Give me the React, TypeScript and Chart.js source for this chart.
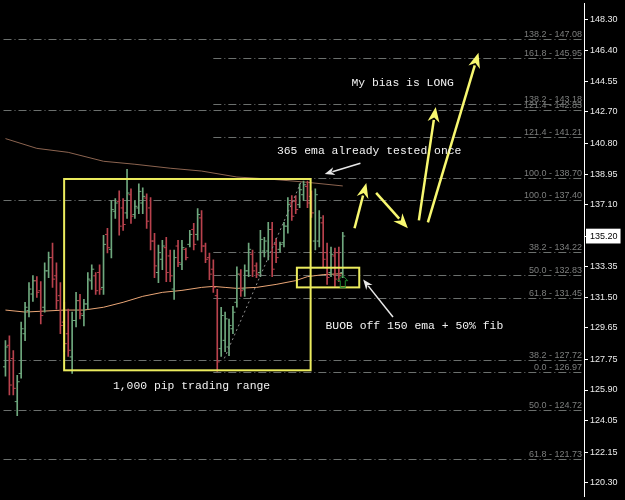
import React, { useEffect, useRef } from 'react';
import { Chart, registerables } from 'chart.js';

Chart.register(...registerables);

// ---- OHLC bars (one per bar slot) ----
const highs = [
  128.88, 129.18, 128.28, 126.79, 130.01, 131.20, 132.39, 132.81, 132.75, 132.45,
  133.59, 134.24, 134.78, 133.59, 132.39, 131.20, 130.79, 130.61, 131.80, 131.68,
  131.38, 132.99, 133.47, 132.99, 133.47, 135.25, 135.67, 137.34, 137.46, 137.93,
  137.46, 139.24, 138.05, 137.34, 138.35, 138.11, 137.75, 137.52, 135.37, 134.66,
  134.95, 135.13, 134.36, 134.36, 134.95, 134.95, 134.48, 135.55, 135.97, 136.86,
  136.74, 134.78, 134.18, 133.76, 131.98, 130.90, 130.61, 130.19, 130.96, 133.35,
  133.17, 133.47, 134.78, 134.36, 133.59, 135.55, 135.13, 136.03, 136.03, 135.07,
  134.84, 136.03, 137.52, 137.64, 137.64, 138.35, 138.53, 138.53, 137.93, 138.05,
  136.74, 136.44, 134.78, 134.54, 134.48, 134.54, 135.43,
];
const lows = [
  126.73, 125.60, 125.60, 124.35, 126.62, 128.88, 130.31, 131.26, 131.50, 129.89,
  130.61, 132.69, 132.10, 130.79, 129.30, 128.22, 127.93, 126.91, 129.71, 130.19,
  129.77, 130.79, 131.98, 131.68, 131.68, 131.68, 134.18, 133.88, 136.27, 135.25,
  135.55, 136.27, 135.97, 136.27, 136.56, 136.56, 135.67, 134.36, 132.69, 132.39,
  133.17, 132.45, 132.45, 131.38, 133.35, 133.17, 133.76, 134.54, 134.36, 134.95,
  134.24, 133.59, 132.57, 131.80, 127.03, 127.93, 128.22, 127.98, 129.30, 130.90,
  131.56, 131.56, 132.75, 132.75, 132.69, 132.75, 133.94, 133.76, 132.75, 133.59,
  134.24, 134.54, 135.37, 136.15, 136.56, 136.92, 137.34, 136.92, 136.33, 134.36,
  134.54, 133.35, 132.28, 132.75, 132.16, 132.45, 132.69,
];
const opens = [
  127.3, 128.6, 127.8, 125.2, 126.9, 129.3, 130.7, 131.7, 132.5, 131.9,
  130.9, 133.1, 133.9, 132.8, 131.6, 130.0, 129.3, 127.9, 130.1, 131.3,
  130.4, 131.1, 132.5, 132.8, 133.0, 132.1, 135.3, 134.4, 136.7, 137.3,
  136.9, 136.6, 137.7, 136.5, 136.9, 137.2, 137.5, 136.9, 134.9, 133.0,
  133.8, 134.5, 134.0, 132.0, 134.6, 133.5, 134.4, 134.7, 135.6, 135.3,
  136.3, 134.6, 133.9, 133.2, 131.6, 128.4, 128.9, 128.5, 129.6, 131.2,
  132.9, 132.0, 133.1, 134.1, 133.4, 133.0, 134.3, 134.3, 135.6, 134.7,
  134.4, 134.8, 135.8, 137.2, 137.3, 137.1, 137.7, 138.2, 137.6, 134.9,
  134.9, 136.0, 134.2, 133.0, 134.0, 134.2, 133.0,
];
const closes = [
  128.5, 126.2, 126.0, 126.4, 129.6, 130.9, 132.0, 132.5, 131.8, 130.4,
  133.1, 133.9, 132.6, 131.3, 129.8, 128.7, 128.3, 130.1, 131.3, 130.5,
  131.1, 132.6, 133.2, 131.9, 132.0, 134.7, 134.5, 136.8, 137.2, 135.8,
  135.9, 137.8, 136.4, 137.0, 137.9, 137.6, 136.1, 134.9, 133.4, 134.2,
  134.6, 133.0, 132.8, 133.9, 133.6, 134.5, 133.9, 135.3, 134.7, 136.5,
  134.6, 133.8, 132.9, 132.1, 127.6, 130.4, 130.2, 129.8, 130.6, 132.9,
  131.9, 133.1, 134.4, 133.1, 132.9, 135.0, 134.9, 135.6, 133.2, 133.9,
  134.7, 135.8, 137.1, 136.4, 136.8, 138.0, 138.3, 137.2, 136.6, 137.7,
  136.3, 133.8, 132.7, 134.1, 132.6, 132.8, 135.20,
];

// ---- moving averages (bar index, value) ----
const ema365Idx = [0, 8, 16, 25, 33, 42, 50, 59, 67, 76, 86];
const ema365Val = [141.09, 140.50, 140.26, 139.72, 139.54, 139.30, 139.13, 138.77, 138.65, 138.47, 138.23];
const ema150Idx = [0, 5, 10, 15, 20, 25, 30, 35, 40, 45, 50, 53, 56, 59, 64, 69, 74, 77, 81, 86];
const ema150Val = [130.73, 130.61, 130.67, 130.73, 130.73, 130.90, 131.20, 131.56, 131.80, 131.92, 132.10, 132.16, 132.10, 132.04, 132.10, 132.28, 132.51, 132.75, 132.87, 132.93];

// ---- price axis ticks ----
const yTicks = [148.30, 146.40, 144.55, 142.70, 140.80, 138.95, 137.10, 135.20, 133.35, 131.50, 129.65, 127.75, 125.90, 124.05, 122.15, 120.30];

// ---- fibonacci levels ----
const fibALevels = [147.08, 142.83, 137.40, 127.72, 124.72, 121.73];
const fibARatios = ['138.2', '121.4', '100.0', '38.2', '50.0', '61.8'];
const fibBLevels = [145.95, 143.18, 141.21, 138.70, 134.22, 132.83, 131.45, 126.97];
const fibBRatios = ['161.8', '138.2', '121.4', '100.0', '38.2', '50.0', '61.8', '0.0'];
const fibAStart = -0.5;
const fibBStart = 53;

// ---- annotations (bar index / price) ----
const rangeBox = [14.96, 138.65, 77.8, 127.09];
const buyBox = [74.3, 133.29, 90.2, 132.10];
const trendLine = [55.8, 127.81, 75.5, 138.53];
const yellowArrows = [
  [89.0, 135.67, 92.0, 138.41],
  [94.5, 137.81, 102.6, 135.67],
  [105.4, 136.15, 109.7, 143.0],
  [107.7, 136.03, 120.6, 146.27],
];
const whiteArrows = [
  [90.5, 139.60, 81.4, 138.95],
  [98.8, 130.31, 91.2, 132.57],
];
const buySignal = [86, 132.81];
const notes = [
  { text: '365 ema already tested once', x: 69.2, y: 140.32 },
  { text: 'My bias is LONG', x: 88.2, y: 144.43 },
  { text: 'BUOB off 150 ema + 50% fib', x: 81.6, y: 129.77 },
  { text: '1,000 pip trading range', x: 27.4, y: 126.14 },
];

const SLOTS = 148;
const UP = '#6fa87e';
const DOWN = '#b9424d';

function drawArrow(ctx: CanvasRenderingContext2D, x0: number, y0: number, x1: number, y1: number, color: string, shaft: number, headLen: number, headW: number) {
  const ang = Math.atan2(y1 - y0, x1 - x0);
  const c = Math.cos(ang), s = Math.sin(ang);
  const bx = x1 - c * headLen, by = y1 - s * headLen;
  ctx.strokeStyle = color;
  ctx.lineWidth = shaft;
  ctx.beginPath();
  ctx.moveTo(x0, y0);
  ctx.lineTo(bx + c * 2, by + s * 2);
  ctx.stroke();
  ctx.fillStyle = color;
  ctx.beginPath();
  ctx.moveTo(x1, y1);
  ctx.lineTo(bx - s * headW / 2, by + c * headW / 2);
  ctx.lineTo(bx + c * headLen * 0.3, by + s * headLen * 0.3);
  ctx.lineTo(bx + s * headW / 2, by - c * headW / 2);
  ctx.closePath();
  ctx.fill();
}

const annotate = {
  id: 'annotate',
  beforeDatasetsDraw(chart: any) {
    const { ctx, chartArea, scales } = chart;
    const X = (v: number) => scales.x.getPixelForValue(v);
    const Y = (v: number) => scales.y.getPixelForValue(v);
    ctx.save();
    const sets: [number[], string[], number][] = [
      [fibALevels, fibARatios, fibAStart],
      [fibBLevels, fibBRatios, fibBStart],
    ];
    ctx.font = '9px "Liberation Sans"';
    ctx.textAlign = 'right';
    ctx.textBaseline = 'alphabetic';
    for (const [levels, ratios, start] of sets) {
      levels.forEach((lv, k) => {
        const y = Math.round(Y(lv)) + 0.5;
        ctx.fillStyle = '#7d7f7e';
        ctx.fillText(`${ratios[k]} - ${lv.toFixed(2)}`, chartArea.right - 2, y - 2.5);
        ctx.strokeStyle = '#6c706e';
        ctx.lineWidth = 1;
        ctx.setLineDash([8, 3, 1, 3]);
        ctx.beginPath();
        ctx.moveTo(Math.max(X(start), chartArea.left), y);
        ctx.lineTo(chartArea.right, y);
        ctx.stroke();
      });
    }
    ctx.setLineDash([]);
    ctx.restore();
  },
  afterDatasetsDraw(chart: any) {
    const { ctx, scales } = chart;
    const X = (v: number) => scales.x.getPixelForValue(v);
    const Y = (v: number) => scales.y.getPixelForValue(v);
    ctx.save();
    // trend line
    ctx.strokeStyle = '#8e8e8e';
    ctx.lineWidth = 1;
    ctx.setLineDash([2, 3]);
    ctx.beginPath();
    ctx.moveTo(X(trendLine[0]), Y(trendLine[1]));
    ctx.lineTo(X(trendLine[2]), Y(trendLine[3]));
    ctx.stroke();
    ctx.setLineDash([]);
    // boxes
    ctx.strokeStyle = '#ecec5e';
    ctx.lineWidth = 2;
    for (const b of [rangeBox, buyBox]) {
      const x0 = X(b[0]), y0 = Y(b[1]), x1 = X(b[2]), y1 = Y(b[3]);
      ctx.strokeRect(x0, y0, x1 - x0, y1 - y0);
    }
    // arrows
    for (const a of yellowArrows) {
      drawArrow(ctx, X(a[0]), Y(a[1]), X(a[2]), Y(a[3]), '#f8f870', 2.5, 15, 12);
    }
    for (const a of whiteArrows) {
      drawArrow(ctx, X(a[0]), Y(a[1]), X(a[2]), Y(a[3]), '#e8e8e8', 1.5, 10, 8);
    }
    // buy signal hollow arrow
    const sx = X(buySignal[0]), sy = Y(buySignal[1]);
    ctx.strokeStyle = '#1e8a2e';
    ctx.lineWidth = 1;
    ctx.beginPath();
    ctx.moveTo(sx, sy);
    ctx.lineTo(sx + 5, sy + 5);
    ctx.lineTo(sx + 2.5, sy + 5);
    ctx.lineTo(sx + 2.5, sy + 12);
    ctx.lineTo(sx - 2.5, sy + 12);
    ctx.lineTo(sx - 2.5, sy + 5);
    ctx.lineTo(sx - 5, sy + 5);
    ctx.closePath();
    ctx.stroke();
    // notes
    ctx.font = '11.4px "Liberation Mono"';
    ctx.fillStyle = '#f2f2f2';
    ctx.textAlign = 'left';
    ctx.textBaseline = 'middle';
    for (const n of notes) {
      ctx.fillText(n.text, X(n.x), Y(n.y));
    }
    ctx.restore();
  },
};

export default function App() {
  const ref = useRef<HTMLCanvasElement>(null);
  useEffect(() => {
    if (!ref.current) return;
    const labels = Array.from({ length: SLOTS }, (_, i) => String(i));
    const colors = opens.map((o, i) => (closes[i] >= o ? UP : DOWN));
    const lastClose = closes[closes.length - 1];
    const isLast = (v: any) => Math.abs(Number(v) - lastClose) < 1e-6;
    const chart = new Chart(ref.current, {
      type: 'bar',
      data: {
        labels,
        datasets: [
          {
            type: 'line',
            data: ema365Idx.map((x, k) => ({ x: String(x), y: ema365Val[k] })),
            borderColor: '#8c6450',
            borderWidth: 1,
            pointRadius: 0,
            tension: 0,
            order: 5,
          } as any,
          {
            type: 'line',
            data: ema150Idx.map((x, k) => ({ x: String(x), y: ema150Val[k] })),
            borderColor: '#eaa676',
            borderWidth: 1,
            pointRadius: 0,
            tension: 0,
            order: 4,
          } as any,
          {
            type: 'bar',
            data: lows.map((l, i) => [l, highs[i]]),
            backgroundColor: colors,
            borderWidth: 0,
            barThickness: 1,
            order: 2,
          } as any,
          {
            type: 'line',
            data: opens,
            showLine: false,
            pointStyle: 'dash',
            pointRotation: 180,
            pointRadius: 2.5,
            pointHoverRadius: 2.5,
            pointBorderWidth: 1,
            pointBorderColor: colors,
            pointBackgroundColor: colors,
            order: 1,
          } as any,
          {
            type: 'line',
            data: closes,
            showLine: false,
            pointStyle: 'dash',
            pointRotation: 0,
            pointRadius: 2.5,
            pointHoverRadius: 2.5,
            pointBorderWidth: 1,
            pointBorderColor: colors,
            pointBackgroundColor: colors,
            order: 1,
          } as any,
        ],
      },
      options: {
        responsive: false,
        animation: false,
        devicePixelRatio: 1,
        events: [],
        layout: { padding: 0 },
        plugins: { legend: { display: false }, tooltip: { enabled: false }, title: { display: false } },
        scales: {
          x: { type: 'category', display: false, offset: true, grid: { display: false } },
          y: {
            type: 'linear',
            position: 'right',
            min: 119.466,
            max: 149.253,
            afterBuildTicks: (s: any) => {
              s.ticks = yTicks.map((v) => ({ value: v }));
            },
            afterFit: (s: any) => {
              s.width = 41;
              s.paddingTop = 0;
              s.paddingBottom = 0;
            },
            grid: { drawOnChartArea: false, drawTicks: true, tickLength: 4, color: '#ffffff', lineWidth: 1 },
            border: { display: true, color: '#ffffff', width: 1 },
            ticks: {
              autoSkip: false,
              padding: 2,
              font: { family: '"Liberation Sans"', size: 9 },
              color: (c: any) => (c.tick && isLast(c.tick.value) ? '#000000' : '#ececec'),
              showLabelBackdrop: (c: any) => !!(c.tick && isLast(c.tick.value)),
              backdropColor: '#ffffff',
              backdropPadding: { left: 4, right: 3, top: 2, bottom: 2 },
              callback: (v: any) => Number(v).toFixed(2),
            },
          },
        },
      },
      plugins: [annotate],
    } as any);
    return () => chart.destroy();
  }, []);
  return (
    <div style={{ position: 'fixed', left: 0, top: 0, width: 625, height: 500, background: '#000' }}>
      <canvas ref={ref} width={625} height={500} style={{ display: 'block' }} />
    </div>
  );
}
